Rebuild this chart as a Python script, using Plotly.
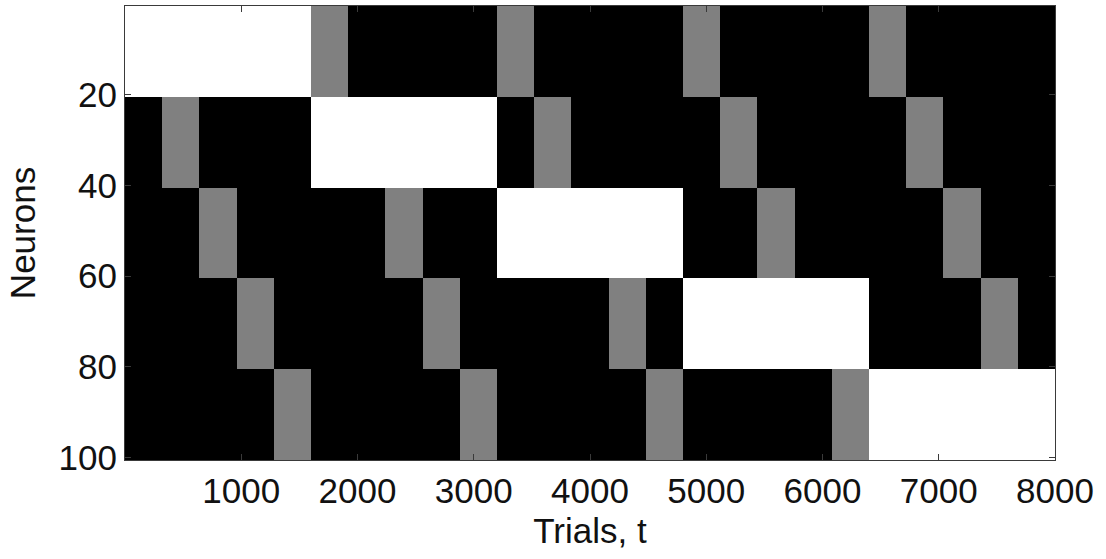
import plotly.graph_objects as go

# Trial bin edges (25 bins of 320 trials)
trial_edges = [0, 320, 640, 960, 1280, 1600, 1920, 2240, 2560, 2880, 3200,
               3520, 3840, 4160, 4480, 4800, 5120, 5440, 5760, 6080, 6400,
               6720, 7040, 7360, 7680, 8000]

# Activity state per neuron group per trial bin: 0 = silent (black), 1 = partial (gray), 2 = active (white)
group1 = [2, 2, 2, 2, 2, 1, 0, 0, 0, 0, 1, 0, 0, 0, 0, 1, 0, 0, 0, 0, 1, 0, 0, 0, 0]
group2 = [0, 1, 0, 0, 0, 2, 2, 2, 2, 2, 0, 1, 0, 0, 0, 0, 1, 0, 0, 0, 0, 1, 0, 0, 0]
group3 = [0, 0, 1, 0, 0, 0, 0, 1, 0, 0, 2, 2, 2, 2, 2, 0, 0, 1, 0, 0, 0, 0, 1, 0, 0]
group4 = [0, 0, 0, 1, 0, 0, 0, 0, 1, 0, 0, 0, 0, 1, 0, 2, 2, 2, 2, 2, 0, 0, 0, 1, 0]
group5 = [0, 0, 0, 0, 1, 0, 0, 0, 0, 1, 0, 0, 0, 0, 1, 0, 0, 0, 0, 1, 2, 2, 2, 2, 2]
groups = [group1, group2, group3, group4, group5]
neurons_per_group = 20

neurons = list(range(1, 101))
x_ticks = [1000, 2000, 3000, 4000, 5000, 6000, 7000, 8000]
y_ticks = [20, 40, 60, 80, 100]

z = []
for g in groups:
    for _ in range(neurons_per_group):
        z.append(g)

fig = go.Figure(go.Heatmap(
    x=trial_edges, y=neurons, z=z,
    zmin=0, zmax=2,
    colorscale=[[0, "#000000"], [0.5, "#808080"], [1, "#ffffff"]],
    showscale=False, hoverinfo="skip",
))

font_family = "Liberation Sans, Arial, sans-serif"
axis_common = dict(
    showline=True, linecolor="#3a3a3a", linewidth=1, mirror="ticks",
    ticks="inside", ticklen=6, tickcolor="#3a3a3a", tickwidth=1,
    showgrid=False, zeroline=False,
    tickfont=dict(family=font_family, size=35, color="#111111"),
)

fig.update_xaxes(
    range=[0, 8000], tickvals=x_ticks,
    title=dict(text="Trials, t", font=dict(family=font_family, size=35, color="#111111"), standoff=9),
    **axis_common,
)
fig.update_yaxes(
    range=[100.5, 0.5], tickvals=y_ticks,
    title=dict(text="Neurons", font=dict(family=font_family, size=35, color="#111111"), standoff=12),
    **axis_common,
)

fig.update_layout(
    width=1106, height=559,
    margin=dict(l=125, r=51, t=6, b=99, autoexpand=False),
    paper_bgcolor="white", plot_bgcolor="white",
    showlegend=False,
)

fig.write_html("out.html")
